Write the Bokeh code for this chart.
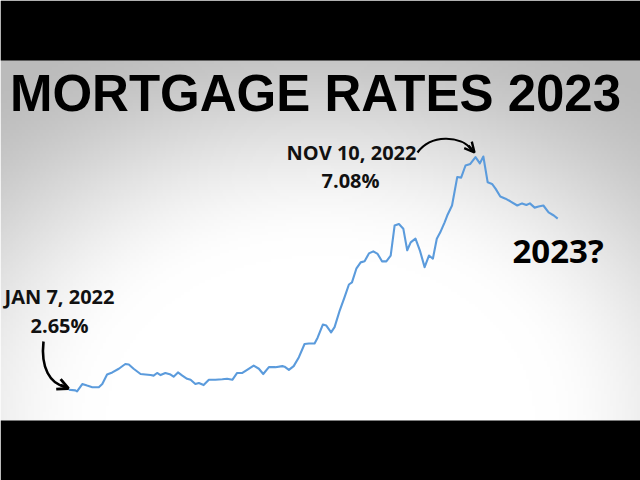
import numpy as np
from bokeh.plotting import figure
from bokeh.models import Range1d, BoxAnnotation, Label, Arrow, OpenHead
from bokeh.embed import file_html
from bokeh.resources import INLINE

# Weekly 30-yr mortgage rate, weeks counted from Jan 7, 2021
weeks = [0, 1.5, 1.9, 3.1, 4.2, 5.4, 6.9, 7.7, 8.8, 10.0, 11.5, 13.0, 13.8, 14.9,
         16.5, 17.6, 18.8, 19.5, 20.3, 21.1, 22.2, 23.4, 24.1, 25.1, 26.1, 27.2,
         28.0, 29.1, 29.9, 31.0, 32.2, 33.7, 35.3, 36.4, 37.6, 38.7, 39.9, 41.0,
         42.5, 43.7, 44.7, 46.0, 47.5, 49.1, 49.6, 50.6, 51.7, 52.9, 54.2, 55.2,
         56.5, 57.2, 58.4, 59.2, 60.3, 61.1, 62.3, 63.4, 64.4, 65.1, 66.1, 67.1,
         68.0, 69.0, 70.0, 71.0, 72.0, 73.0, 74.0, 74.9, 75.9, 76.9, 77.8, 78.6,
         79.7, 80.7, 81.8, 82.8, 83.7, 84.6, 85.4, 86.4, 87.0, 88.1, 89.3, 90.2,
         91.2, 92.3, 93.5, 94.5, 95.3, 96.3, 97.3, 98.1, 99.2, 100.4, 101.5, 103.1,
         104.2, 105.2, 106.0, 107.1, 108.0, 109.1, 110.3, 111.5, 112.4]
rates = [2.65, 2.64, 2.62, 2.76, 2.73, 2.70, 2.70, 2.76, 2.94, 2.98, 3.05, 3.14, 3.13, 3.05,
         2.95, 2.94, 2.93, 2.92, 2.97, 2.93, 2.97, 2.94, 2.90, 2.98, 2.92, 2.86,
         2.84, 2.76, 2.78, 2.74, 2.84, 2.84, 2.85, 2.86, 2.84, 2.97, 2.97, 3.03,
         3.11, 3.05, 2.95, 3.08, 3.08, 3.10, 3.09, 3.03, 3.10, 3.27, 3.52, 3.53,
         3.53, 3.64, 3.89, 3.87, 3.74, 3.84, 4.16, 4.41, 4.65, 4.69, 4.95, 5.07,
         5.09, 5.24, 5.28, 5.23, 5.09, 5.09, 5.20, 5.77, 5.80, 5.71, 5.30, 5.45,
         5.52, 5.30, 4.98, 5.20, 5.14, 5.52, 5.64, 5.83, 5.96, 6.15, 6.69, 6.68,
         6.91, 6.94, 7.07, 6.95, 7.08, 6.59, 6.56, 6.47, 6.32, 6.28, 6.23, 6.15,
         6.19, 6.16, 6.19, 6.11, 6.13, 6.15, 6.02, 5.96, 5.90]

title_text = "MORTGAGE RATES 2023"
start_label = ["JAN 7, 2022", "2.65%"]
peak_label = ["NOV 10, 2022", "7.08%"]
future_label = "2023?"

W, H = 640, 480
x0, x1 = -15.70, 131.43
y0, y1 = 0.928, 10.043

def X(px):
    return x0 + px / W * (x1 - x0)

def Y(py):
    return y1 - py / H * (y1 - y0)

p = figure(width=W, height=H, output_backend="svg", toolbar_location=None,
           x_range=Range1d(x0, x1), y_range=Range1d(y0, y1),
           min_border=0, outline_line_color=None)
p.axis.visible = False
p.grid.visible = False
p.background_fill_color = "white"
p.border_fill_color = "white"

# background gradient (grey at top / corners, white toward bottom centre)
nx, ny = 213, 160
gx = np.linspace(0, 640, nx)
gy = np.linspace(480, 0, ny)  # row 0 is at the bottom
GX, GY = np.meshgrid(gx, gy)
d = np.sqrt(((GX - 320) / 430) ** 2 + ((GY - 420) / 330) ** 2)
t = np.clip((d - 0.5) / 0.8, 0, 1)
t = t * t * (3 - 2 * t)
g = (255 - 68 * t).astype(np.uint32)
img = (255 << 24) | (g << 16) | (g << 8) | g
p.image_rgba(image=[img.astype(np.uint32)], x=x0, y=y0, dw=x1 - x0, dh=y1 - y0)

# black letterbox bars
p.add_layout(BoxAnnotation(bottom=Y(60), fill_color="black", fill_alpha=1, line_color=None))
p.add_layout(BoxAnnotation(top=Y(420), fill_color="black", fill_alpha=1, line_color=None))

# rate line
p.line(weeks, rates, line_color="#5b9bdc", line_width=2.1, line_join="round")

def label(px, py_base, text, size, font="Open Sans", align="center", color="#111111"):
    # anchor at the visual middle of the text (baseline - 0.35 em)
    p.add_layout(Label(x=X(px), y=Y(py_base - 0.35 * size), text=text, text_align=align,
                       text_baseline="middle", text_font=font, text_font_style="bold",
                       text_font_size=f"{size}px", text_color=color))

label(315, 111, title_text, 51, font="Liberation Sans", color="black")
label(59, 303, start_label[0], 20)
label(59, 332, start_label[1], 20)
label(351, 159, peak_label[0], 20)
label(350, 187, peak_label[1], 20)
label(512, 262, future_label, 33, align="left", color="black")

# curved arrows
p.bezier(x0=[X(43)], y0=[Y(341)], x1=[X(64)], y1=[Y(386)],
         cx0=[X(40)], cy0=[Y(368)], cx1=[X(50)], cy1=[Y(383)],
         line_color="black", line_width=2.6)
p.add_layout(Arrow(end=OpenHead(size=11, line_width=2.8, line_color="black"),
                   x_start=X(60), y_start=Y(384.5), x_end=X(68), y_end=Y(388),
                   line_color="black", line_width=2.6))

p.bezier(x0=[X(417)], y0=[Y(152)], x1=[X(472)], y1=[Y(150)],
         cx0=[X(430)], cy0=[Y(134)], cx1=[X(460)], cy1=[Y(134)],
         line_color="black", line_width=2.2)
p.add_layout(Arrow(end=OpenHead(size=10, line_width=2.4, line_color="black"),
                   x_start=X(468), y_start=Y(145), x_end=X(474), y_end=Y(152),
                   line_color="black", line_width=2.2))

open("out.html", "w").write(file_html(p, INLINE))
